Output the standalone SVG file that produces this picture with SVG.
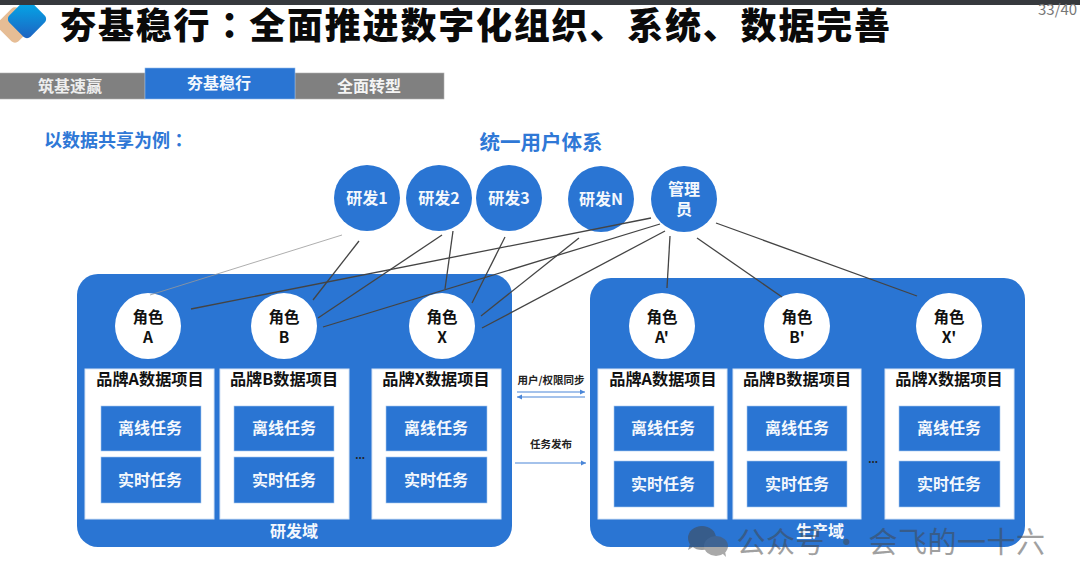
<svg xmlns="http://www.w3.org/2000/svg" width="1080" height="586" viewBox="0 0 1080 586">
<style>
text{font-family:"Noto Sans CJK SC","Liberation Sans",sans-serif;font-weight:700;text-anchor:middle}
.panel{fill:#2a75d3}
.w{fill:#fff;stroke:#d5e4f6;stroke-width:1}
.in{fill:#2a75d3;stroke:#a9c8ee;stroke-width:.6}
.c{fill:#2a75d3}
.cw{fill:#fff}
.tw{fill:#f4f8fd;font-size:16px}
.tk{fill:#111;font-size:15.5px}
.th{fill:#111;font-size:16.2px}
.lbl{fill:#222;font-size:10.5px}
.ln{stroke:#444;stroke-width:1.3;fill:none}
.ar{stroke:#4a86d8;stroke-width:1.2;fill:none;marker-end:url(#ah)}
.tab{fill:#808080;stroke:#b0b0b0;stroke-width:.6}
</style>
<defs>
<marker id="ah" markerWidth="6" markerHeight="6" refX="5" refY="3" orient="auto" markerUnits="userSpaceOnUse"><path d="M0 0.6L5 3L0 5.4z" fill="#4a86d8"/></marker>
<linearGradient id="lg" x1="0" y1="0" x2="1" y2="1"><stop offset="0" stop-color="#00b0ec"/><stop offset="1" stop-color="#1f5fbf"/></linearGradient>
</defs>
<rect width="1080" height="586" fill="#fff"/>
<g id="logo">
<rect x="1" y="11" width="28" height="28" rx="5" fill="#e6bd95" transform="rotate(45 15 25)"/>
<rect x="12" y="4" width="30" height="30" rx="5" fill="url(#lg)" transform="rotate(45 27 19)"/>
</g>
<rect id="topbar" x="0" y="0" width="1080" height="5" fill="#36393d"/>
<text id="title" x="476" y="39" style="font-size:36px;font-weight:900;letter-spacing:1.8px" fill="#0a0a0a">夯基稳行<tspan style="font-family:'Noto Sans CJK TC',sans-serif">：</tspan>全面推进数字化组织、系统、数据完善</text>
<text id="page" x="1038" y="15" style="font-size:15px;font-weight:400;text-anchor:start" fill="#777">33/40</text>
<g id="tabs">
<rect class="tab" x="-1" y="73" width="146" height="26"/>
<rect class="tab" x="295" y="73" width="149" height="26"/>
<rect x="145" y="68" width="150" height="31" fill="#2a75d3" stroke="#8fb8ea" stroke-width=".6"/>
<text x="70" y="92" style="font-size:16px" fill="#eee">筑基速赢</text>
<text x="219" y="89" style="font-size:16px" fill="#f4f8fd">夯基稳行</text>
<text x="369" y="92" style="font-size:16px" fill="#f4f4f4">全面转型</text>
</g>
<text id="example" x="116" y="147" style="font-size:18px" fill="#2f78d6">以数据共享为例<tspan style="font-family:'Noto Sans CJK TC',sans-serif">：</tspan></text>
<text id="system" x="541" y="150" style="font-size:20.5px" fill="#2f78d6">统一用户体系</text>
<g id="dev-domain">
<rect class="panel" x="77" y="274" width="435" height="273" rx="21"/>
<text x="294" y="537" style="font-size:16px" fill="#f4f8fd">研发域</text>
<text class="lbl" x="360" y="459" style="font-size:10px" fill="#234">...</text>
</g>
<g id="prod-domain">
<rect class="panel" x="590" y="278" width="435" height="269" rx="21"/>
<text x="820" y="537" style="font-size:16px" fill="#f4f8fd">生产域</text>
<text class="lbl" x="873" y="463" style="font-size:10px" fill="#234">...</text>
</g>
<g id="project-a"><rect class="w" x="85" y="369" width="129" height="150"/><text class="th" x="150" y="385">品牌A数据项目</text><rect class="in" x="101" y="406" width="100" height="45"/><text class="tw" x="150" y="434">离线任务</text><rect class="in" x="101" y="457" width="100" height="46"/><text class="tw" x="150" y="486">实时任务</text></g>
<g id="project-b"><rect class="w" x="220" y="369" width="129" height="150"/><text class="th" x="284" y="385">品牌B数据项目</text><rect class="in" x="234" y="406" width="100" height="45"/><text class="tw" x="284" y="434">离线任务</text><rect class="in" x="234" y="457" width="100" height="46"/><text class="tw" x="284" y="486">实时任务</text></g>
<g id="project-x"><rect class="w" x="372" y="369" width="129" height="150"/><text class="th" x="436" y="385">品牌X数据项目</text><rect class="in" x="386" y="406" width="101" height="45"/><text class="tw" x="436" y="434">离线任务</text><rect class="in" x="386" y="457" width="101" height="46"/><text class="tw" x="436" y="486">实时任务</text></g>
<g id="project-a2"><rect class="w" x="598" y="369" width="129" height="150"/><text class="th" x="663" y="385">品牌A数据项目</text><rect class="in" x="614" y="406" width="100" height="45"/><text class="tw" x="663" y="434">离线任务</text><rect class="in" x="614" y="461" width="100" height="46"/><text class="tw" x="663" y="490">实时任务</text></g>
<g id="project-b2"><rect class="w" x="733" y="369" width="128" height="150"/><text class="th" x="797" y="385">品牌B数据项目</text><rect class="in" x="747" y="406" width="100" height="45"/><text class="tw" x="797" y="434">离线任务</text><rect class="in" x="747" y="461" width="100" height="46"/><text class="tw" x="797" y="490">实时任务</text></g>
<g id="project-x2"><rect class="w" x="885" y="369" width="129" height="150"/><text class="th" x="949" y="385">品牌X数据项目</text><rect class="in" x="899" y="406" width="101" height="45"/><text class="tw" x="949" y="434">离线任务</text><rect class="in" x="899" y="461" width="101" height="46"/><text class="tw" x="949" y="490">实时任务</text></g>
<g id="dev1"><circle class="c" cx="367" cy="198" r="33"/><text class="tw" x="367" y="204">研发1</text></g>
<g id="dev2"><circle class="c" cx="439" cy="198" r="33"/><text class="tw" x="439" y="204">研发2</text></g>
<g id="dev3"><circle class="c" cx="509" cy="198" r="33"/><text class="tw" x="509" y="204">研发3</text></g>
<g id="devn"><circle class="c" cx="601" cy="199" r="33"/><text class="tw" x="601" y="205">研发N</text></g>
<g id="admin"><circle class="c" cx="684" cy="199" r="33"/><text class="tw" x="684" y="195">管理</text><text class="tw" x="684" y="215">员</text></g>
<g id="role-a"><circle class="cw" cx="148" cy="326" r="33"/><text class="tk" x="148" y="323">角色</text><text class="tk" x="148" y="343">A</text></g>
<g id="role-b"><circle class="cw" cx="284" cy="326" r="33"/><text class="tk" x="284" y="323">角色</text><text class="tk" x="284" y="343">B</text></g>
<g id="role-x"><circle class="cw" cx="442" cy="326" r="33"/><text class="tk" x="442" y="323">角色</text><text class="tk" x="442" y="343">X</text></g>
<g id="role-a2"><circle class="cw" cx="662" cy="326" r="33"/><text class="tk" x="662" y="323">角色</text><text class="tk" x="662" y="343">A'</text></g>
<g id="role-b2"><circle class="cw" cx="797" cy="326" r="33"/><text class="tk" x="797" y="323">角色</text><text class="tk" x="797" y="343">B'</text></g>
<g id="role-x2"><circle class="cw" cx="949" cy="326" r="33"/><text class="tk" x="949" y="323">角色</text><text class="tk" x="949" y="343">X'</text></g>
<g id="connectors">
<line x1="342" y1="235" x2="150" y2="295" stroke="#999" stroke-width=".8"/>
<line class="ln" x1="359" y1="241" x2="313" y2="300"/>
<line class="ln" x1="442" y1="235" x2="318" y2="318"/>
<line class="ln" x1="453" y1="231" x2="445" y2="289"/>
<line class="ln" x1="505" y1="237" x2="472" y2="303"/>
<line class="ln" x1="651" y1="218" x2="191" y2="309"/>
<line class="ln" x1="660" y1="224" x2="323" y2="327"/>
<line class="ln" x1="579" y1="238" x2="481" y2="316"/>
<line class="ln" x1="665" y1="231" x2="482" y2="328"/>
<line class="ln" x1="670" y1="236" x2="667" y2="288"/>
<line class="ln" x1="697" y1="238" x2="782" y2="297"/>
<line class="ln" x1="716" y1="223" x2="917" y2="296"/>
<line class="ar" x1="517" y1="392" x2="585" y2="392"/>
<line class="ar" x1="585" y1="397" x2="517" y2="397"/>
<line class="ar" x1="515" y1="463" x2="586" y2="463"/>
</g>
<text class="lbl" x="551" y="384">用户/权限同步</text>
<text class="lbl" x="551" y="448">任务发布</text>
<g id="watermark">
<g opacity=".5">
<ellipse cx="702" cy="538" rx="14" ry="12" fill="#444"/>
<path d="M693 547l-5 3 2-6z" fill="#444"/>
<ellipse cx="716" cy="546" rx="12" ry="10" fill="#555"/>
<path d="M722 553l4 4-1-6z" fill="#555"/>
<text x="891" y="553" style="font-size:29px;font-weight:400;letter-spacing:.5px" fill="#444">公众号 · 会飞的一十六</text>
</g>
</g>
</svg>
